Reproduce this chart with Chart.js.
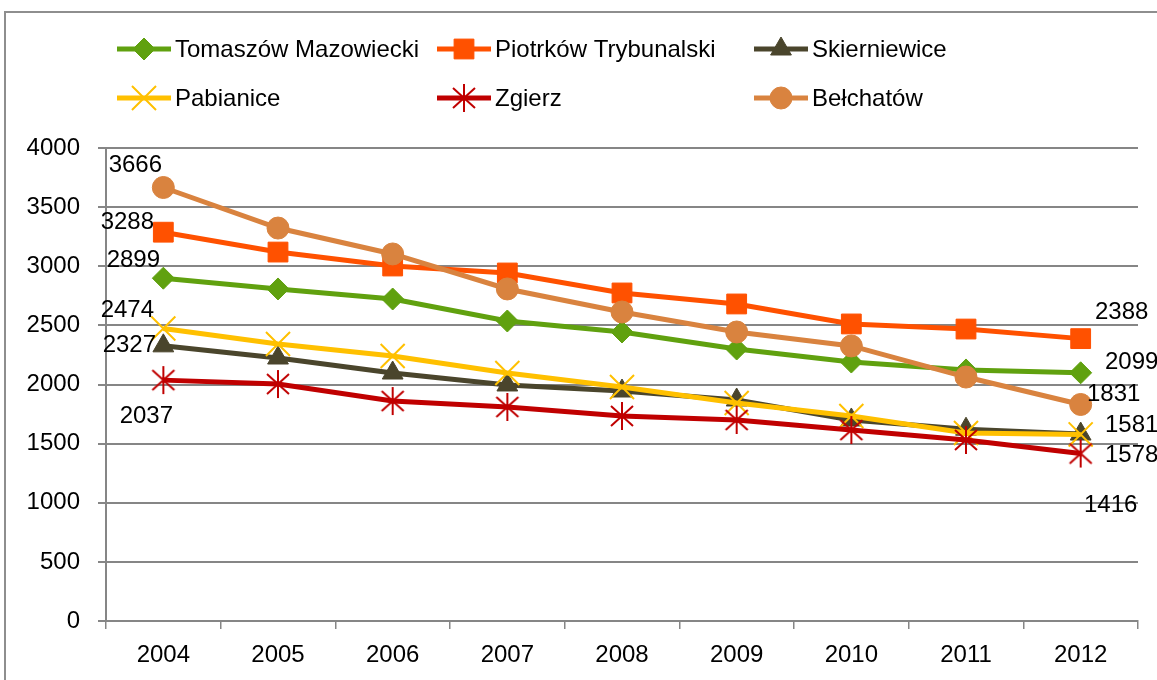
<!DOCTYPE html>
<html>
<head>
<meta charset="utf-8">
<script src="https://cdn.jsdelivr.net/npm/chart.js@4.4.0/dist/chart.umd.min.js"></script>
<style>
  html, body { margin: 0; padding: 0; background: #fff; overflow: hidden; }
  #wrap { position: relative; width: 1157px; height: 680px; }
  #frame { position: absolute; left: 4px; top: 11px; width: 1200px; height: 720px;
           border: 2px solid #8e8e8e; pointer-events: none; }
</style>
</head>
<body>
<div id="wrap">
  <canvas id="myChart" width="1157" height="680"></canvas>
  <div id="frame"></div>
</div>
<script>
// dane
const lata = ["2004", "2005", "2006", "2007", "2008", "2009", "2010", "2011", "2012"];
const tomaszow    = [2899, 2808, 2723, 2537, 2444, 2300, 2190, 2123, 2099];
const piotrkow    = [3288, 3120, 3002, 2943, 2774, 2681, 2512, 2469, 2388];
const skierniewice= [2327, 2224, 2097, 1996, 1945, 1869, 1700, 1622, 1581];
const pabianice   = [2474, 2343, 2241, 2097, 1979, 1844, 1734, 1590, 1578];
const zgierz      = [2037, 2004, 1860, 1810, 1734, 1700, 1615, 1531, 1416];
const belchatow   = [3666, 3323, 3104, 2808, 2613, 2444, 2326, 2063, 1831];
const yTicks = [0, 500, 1000, 1500, 2000, 2500, 3000, 3500, 4000];

const FONT = "'Liberation Sans', Arial, sans-serif";

// gwiazdka jak w Excelu: X + pionowa kreska
function gwiazdka(kolor) {
  const c = document.createElement("canvas");
  c.width = 28; c.height = 30;
  const g = c.getContext("2d");
  g.strokeStyle = kolor;
  g.lineWidth = 2;
  g.beginPath();
  g.moveTo(3, 5); g.lineTo(25, 25);
  g.moveTo(25, 5); g.lineTo(3, 25);
  g.moveTo(14, 1); g.lineTo(14, 29);
  g.stroke();
  return c;
}

const serie = [
  { nazwa: "Tomaszów Mazowiecki",  dane: tomaszow,     kolor: "#60a10f", styl: "rectRot",  r: 11, bw: 1 },
  { nazwa: "Piotrków Trybunalski", dane: piotrkow,     kolor: "#ff5100", styl: "rect",     r: 14, bw: 1 },
  { nazwa: "Skierniewice",         dane: skierniewice, kolor: "#4a452c", styl: "triangle", r: 12, bw: 1 },
  { nazwa: "Pabianice",            dane: pabianice,    kolor: "#ffc000", styl: "crossRot", r: 17, bw: 2 },
  { nazwa: "Zgierz",               dane: zgierz,       kolor: "#c00000", styl: gwiazdka("#c00000"), r: 14, bw: 2 },
  { nazwa: "Bełchatów",            dane: belchatow,    kolor: "#d9833f", styl: "circle",   r: 11, bw: 1 }
];

// przesuniecia etykiet wartosci (pierwszy i ostatni punkt)
const etykietyStart = [[-30, -18], [-36, -10], [-34, 0], [-36, -18], [-17, 36], [-28, -22]];
const etykietyKoniec = [[51, -10], [41, -26], [51, -9], [51, 21], [30, 52], [33, -10]];

const legendaKol = [117, 437, 754];
const legendaWier = [49, 98];

const dp = (Chart.helpers && Chart.helpers.drawPoint) ? Chart.helpers.drawPoint : null;

const etykiety = {
  id: "etykiety",
  afterDatasetsDraw(chart) {
    const ctx = chart.ctx;
    ctx.save();
    ctx.font = "24px " + FONT;
    ctx.fillStyle = "#000";
    ctx.textAlign = "center";
    ctx.textBaseline = "middle";
    serie.forEach((s, i) => {
      const meta = chart.getDatasetMeta(i);
      const p0 = meta.data[0], p1 = meta.data[meta.data.length - 1];
      ctx.fillText(String(s.dane[0]), p0.x + etykietyStart[i][0], p0.y + etykietyStart[i][1]);
      ctx.fillText(String(s.dane[s.dane.length - 1]), p1.x + etykietyKoniec[i][0], p1.y + etykietyKoniec[i][1]);
    });
    ctx.restore();
  }
};

const legenda = {
  id: "legenda",
  afterDraw(chart) {
    const ctx = chart.ctx;
    ctx.save();
    serie.forEach((s, i) => {
      const x = legendaKol[i % 3], y = legendaWier[Math.floor(i / 3)];
      ctx.strokeStyle = s.kolor;
      ctx.fillStyle = s.kolor;
      ctx.lineWidth = 5;
      ctx.beginPath();
      ctx.moveTo(x, y);
      ctx.lineTo(x + 54, y);
      ctx.stroke();
      if (dp) {
        ctx.lineWidth = s.bw;
        dp(ctx, { pointStyle: s.styl, radius: s.r, rotation: 0, borderWidth: s.bw }, x + 27, y);
      }
      ctx.fillStyle = "#000";
      ctx.font = "24px " + FONT;
      ctx.textAlign = "left";
      ctx.textBaseline = "middle";
      ctx.fillText(s.nazwa, x + 58, y + 1);
    });
    ctx.restore();
  }
};

const datasets = serie.map((s, i) => ({
  label: s.nazwa,
  data: s.dane,
  borderColor: s.kolor,
  backgroundColor: s.kolor,
  borderWidth: 5,
  pointStyle: s.styl,
  pointRadius: s.r,
  pointBorderWidth: s.bw,
  pointBackgroundColor: s.kolor,
  pointBorderColor: s.kolor,
  tension: 0,
  order: serie.length - i
}));

const graph = new Chart("myChart", {
  type: "line",
  data: { labels: lata, datasets: datasets },
  options: {
    responsive: false,
    animation: false,
    layout: { padding: { top: 148, right: 17, left: 0, bottom: 0 } },
    plugins: { legend: { display: false }, tooltip: { enabled: false } },
    scales: {
      x: {
        offset: true,
        grid: { display: true, offset: true, drawOnChartArea: false, drawTicks: true,
                tickLength: 8, color: "#868686", lineWidth: 1.5 },
        border: { display: true, color: "#868686", width: 2 },
        ticks: { color: "#000", font: { family: FONT, size: 24 }, padding: 12, maxRotation: 0 },
        afterFit(scale) { scale.height = 59; }
      },
      y: {
        min: 0, max: 4000,
        afterBuildTicks(scale) { scale.ticks = yTicks.map(v => ({ value: v })); },
        grid: { color: "#868686", lineWidth: 2, tickLength: 8 },
        border: { display: true, color: "#868686", width: 2 },
        ticks: { color: "#000", font: { family: FONT, size: 24 }, padding: 18,
                 callback: (v) => String(v) },
        afterFit(scale) { scale.width = 106; }
      }
    }
  },
  plugins: [etykiety, legenda]
});
</script>
</body>
</html>
